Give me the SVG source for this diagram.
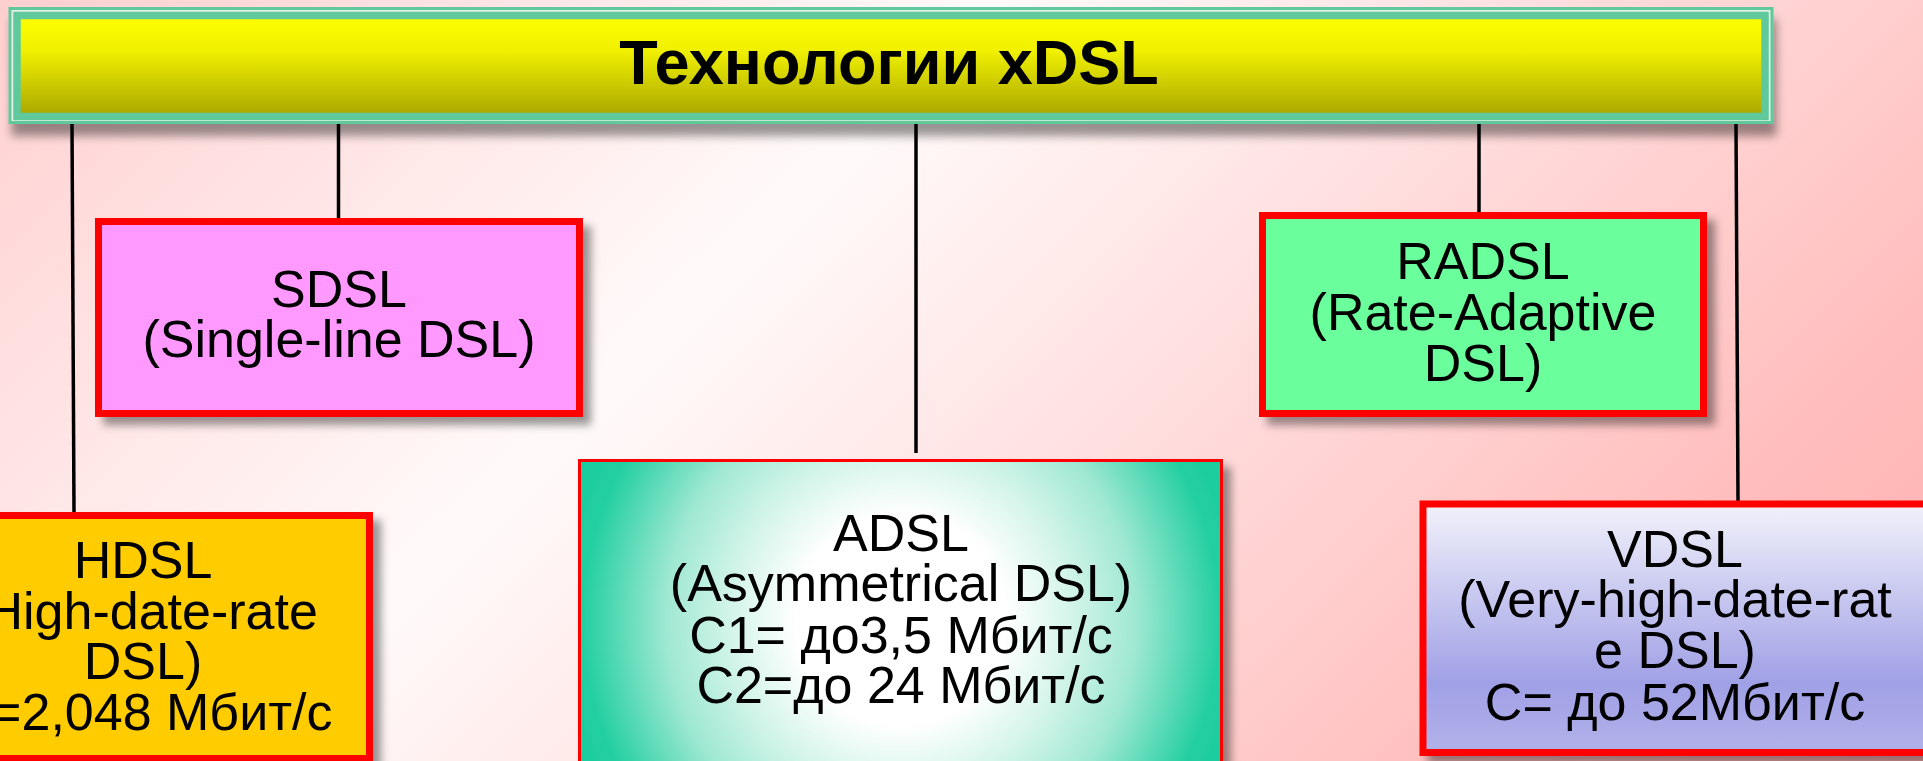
<svg xmlns="http://www.w3.org/2000/svg" width="1923" height="761" viewBox="0 0 1923 761">
  <defs>
    <linearGradient id="bg" gradientUnits="userSpaceOnUse" x1="0" y1="0" x2="1342" y2="1342">
      <stop offset="0" stop-color="#ffcfcf"/>
      <stop offset="0.37" stop-color="#fffafa"/>
      <stop offset="0.7" stop-color="#ffcfcf"/>
      <stop offset="0.84" stop-color="#ffbcbc"/>
      <stop offset="1" stop-color="#ffb0b0"/>
    </linearGradient>
    <linearGradient id="yellow" x1="0" y1="0" x2="0" y2="1">
      <stop offset="0" stop-color="#ffff00"/>
      <stop offset="0.35" stop-color="#f0f000"/>
      <stop offset="1" stop-color="#a9a600"/>
    </linearGradient>
    <radialGradient id="adslFill" gradientUnits="userSpaceOnUse" cx="901" cy="620" r="420">
      <stop offset="0" stop-color="#ffffff"/>
      <stop offset="0.25" stop-color="#ffffff"/>
      <stop offset="0.4" stop-color="#d5f5ea"/>
      <stop offset="0.56" stop-color="#9fe8d2"/>
      <stop offset="0.76" stop-color="#22cfa0"/>
      <stop offset="1" stop-color="#10c898"/>
    </radialGradient>
    <linearGradient id="vdslFill" x1="0" y1="0" x2="0" y2="1">
      <stop offset="0" stop-color="#f2f2fb"/>
      <stop offset="0.72" stop-color="#a0a0e6"/>
      <stop offset="1" stop-color="#b2b2ea"/>
    </linearGradient>
    <filter id="shadow" x="-10%" y="-10%" width="130%" height="140%">
      <feDropShadow dx="8" dy="8" stdDeviation="4" flood-color="#000" flood-opacity="0.4"/>
    </filter>
    <filter id="titleShadow" x="-5%" y="-10%" width="110%" height="160%">
      <feDropShadow dx="3" dy="12" stdDeviation="5" flood-color="#000" flood-opacity="0.4"/>
    </filter>
  </defs>
  <style>
    .box { stroke: #ff0000; stroke-width: 7; }
    .lbl { font-family: "Liberation Sans", Arial, sans-serif; font-size: 52px; fill: #000; text-anchor: middle; }
    .title { font-family: "Liberation Sans", Arial, sans-serif; font-size: 63px; font-weight: bold; fill: #000; text-anchor: middle; }
    .conn { stroke: #000; stroke-width: 3.5; fill: none; }
  </style>

  <rect x="0" y="0" width="1923" height="761" fill="url(#bg)"/>

  <g id="title">
    <g filter="url(#titleShadow)">
      <rect x="10" y="8.5" width="1762" height="114" fill="#e6efe6" stroke="#5ec99b" stroke-width="3"/>
      <rect x="17" y="15.5" width="1748" height="101" fill="url(#yellow)" stroke="#5ec99b" stroke-width="7.5"/>
    </g>
    <text class="title" x="889" y="84">Технологии xDSL</text>
  </g>

  <g id="connectors">
    <line class="conn" x1="72" y1="124" x2="74" y2="513"/>
    <line class="conn" x1="338.5" y1="124" x2="338.5" y2="219"/>
    <line class="conn" x1="916" y1="124" x2="916" y2="453"/>
    <line class="conn" x1="1479" y1="124" x2="1479" y2="213"/>
    <line class="conn" x1="1736" y1="124" x2="1738" y2="501"/>
  </g>

  <g id="sdsl">
    <rect class="box" x="98.5" y="221.5" width="481" height="192" fill="#ff99ff" filter="url(#shadow)"/>
    <text class="lbl" x="339" y="307">SDSL</text>
    <text class="lbl" x="339" y="357">(Single-line DSL)</text>
  </g>

  <g id="radsl">
    <rect class="box" x="1262.5" y="215.5" width="441" height="198" fill="#6bff9c" filter="url(#shadow)"/>
    <text class="lbl" x="1483" y="279">RADSL</text>
    <text class="lbl" x="1483" y="329.5">(Rate-Adaptive</text>
    <text class="lbl" x="1483" y="381">DSL)</text>
  </g>

  <g id="hdsl">
    <rect class="box" x="-90" y="515.5" width="459.5" height="243" fill="#ffcc00" filter="url(#shadow)"/>
    <text class="lbl" x="143" y="578">HDSL</text>
    <text class="lbl" x="143" y="629">(High-date-rate</text>
    <text class="lbl" x="143" y="679">DSL)</text>
    <text class="lbl" x="143" y="730">С=2,048 Мбит/с</text>
  </g>

  <g id="adsl">
    <rect x="579.5" y="460.5" width="642" height="330" fill="url(#adslFill)" stroke="#ff0000" stroke-width="3" filter="url(#shadow)"/>
    <text class="lbl" x="901" y="551">ADSL</text>
    <text class="lbl" x="901" y="601">(Asymmetrical DSL)</text>
    <text class="lbl" x="901" y="652.5">С1= до3,5 Мбит/с</text>
    <text class="lbl" x="901" y="703">С2=до 24 Мбит/с</text>
  </g>

  <g id="vdsl">
    <rect class="box" x="1423" y="504" width="510" height="248.5" fill="url(#vdslFill)" filter="url(#shadow)"/>
    <text class="lbl" x="1675" y="567">VDSL</text>
    <text class="lbl" x="1675" y="617">(Very-high-date-rat</text>
    <text class="lbl" x="1675" y="668">e DSL)</text>
    <text class="lbl" x="1675" y="720">С= до 52Мбит/с</text>
  </g>
</svg>
